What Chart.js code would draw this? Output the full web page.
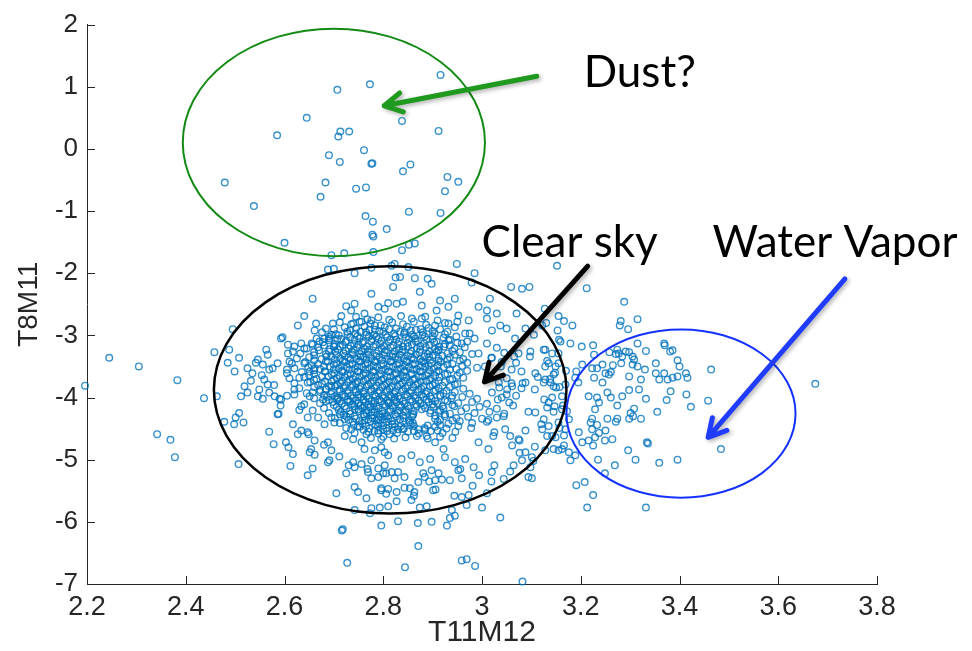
<!DOCTYPE html>
<html>
<head>
<meta charset="utf-8">
<script src="https://cdn.jsdelivr.net/npm/chart.js@4.4.0/dist/chart.umd.min.js"></script>
<style>
  body { margin: 0; background: #fff; }
  #plot { display: block; }
</style>
</head>
<body>
<canvas id="plot" width="972" height="651"></canvas>
<script>
// axis ticks
const xTicks = [2.2, 2.4, 2.6, 2.8, 3.0, 3.2, 3.4, 3.6, 3.8];
const xTickLabels = ['2.2', '2.4', '2.6', '2.8', '3', '3.2', '3.4', '3.6', '3.8'];
const yTicks = [-7, -6, -5, -4, -3, -2, -1, 0, 1, 2];
const yTickLabels = ['-7', '-6', '-5', '-4', '-3', '-2', '-1', '0', '1', '2'];

// [T11M12, T8M11]
const dustPts = [
  [2.916,1.19],[2.773,1.04],[2.707,0.95],[2.645,0.50],[2.838,0.45],[2.585,0.22],[2.713,0.28],[2.709,0.20],
  [2.731,0.28],[2.912,0.29],[2.761,-0.02],[2.690,-0.10],[2.712,-0.21],[2.776,-0.24],[2.778,-0.23],[2.855,-0.25],
  [2.840,-0.36],[2.930,-0.45],[2.952,-0.53],[2.479,-0.54],[2.683,-0.54],[2.745,-0.64],[2.765,-0.62],[2.925,-0.68],
  [2.673,-0.77],[2.538,-0.92],[2.852,-1.01],[2.916,-1.03],[2.764,-1.08],[2.779,-1.17],[2.807,-1.29],[2.778,-1.38],
  [2.780,-1.41],[2.600,-1.51],[2.852,-1.54],[2.864,-1.52],[2.838,-1.63],[2.695,-1.71],[2.721,-1.68],[2.780,-1.66]
];

const clearSkyPts = [
  [2.688,-1.94],[2.700,-1.93],[2.742,-2.00],[2.776,-1.91],[2.817,-1.88],[2.823,-1.85],[2.825,-2.07],[2.820,-2.22],
  [2.776,-2.33],[2.657,-2.41],[2.725,-2.53],[2.742,-2.49],[2.735,-2.60],[2.790,-2.54],[2.810,-2.48],[2.803,-2.57],
  [2.762,-2.65],[2.715,-2.69],[2.640,-2.69],[2.627,-2.84],[2.664,-2.81],[2.661,-2.92],[2.684,-2.89],[2.698,-2.81],
  [2.695,-2.99],[2.739,-2.81],[2.756,-2.78],[2.776,-2.76],[2.783,-2.84],[2.495,-2.90],[2.593,-3.05],[2.596,-3.03],
  [2.607,-3.15],[2.620,-3.18],[2.634,-3.13],[2.640,-3.21],[2.657,-3.15],[2.671,-3.10],[2.681,-3.05],[2.691,-3.05],
  [2.701,-3.18],[2.458,-3.27],[2.488,-3.23],[2.485,-3.44],[2.508,-3.36],[2.499,-3.58],[2.525,-3.53],[2.535,-3.61],
  [2.532,-3.73],[2.546,-3.39],[2.556,-3.47],[2.563,-3.23],[2.566,-3.31],[2.569,-3.55],[2.576,-3.53],[2.586,-3.45],
  [2.607,-3.29],[2.610,-3.42],[2.617,-3.26],[2.605,-3.55],[2.630,-3.68],[2.640,-3.45],[2.651,-3.58],[2.661,-3.53],
  [2.437,-4.01],[2.463,-3.98],[2.512,-3.98],[2.525,-3.92],[2.519,-3.82],[2.549,-3.87],[2.559,-3.71],[2.566,-3.79],
  [2.556,-4.02],[2.580,-3.98],[2.590,-4.02],[2.569,-3.92],[2.620,-3.87],[2.647,-3.76],[2.657,-3.92],[2.678,-4.03],
  [2.684,-3.87],[2.708,-4.03],[2.695,-3.82],
  [2.546,-3.98],[2.593,-4.03],[2.620,-3.95],[2.651,-3.98],[2.640,-4.11],[2.634,-4.14],[2.657,-4.21],[2.647,-4.32],
  [2.668,-4.32],[2.684,-4.06],[2.708,-4.00],[2.712,-4.27],[2.695,-4.32],[2.681,-4.43],[2.701,-4.40],[2.722,-4.35],
  [2.586,-4.27],[2.588,-4.26],[2.508,-4.25],[2.501,-4.32],[2.498,-4.43],[2.517,-4.40],[2.478,-4.39],[2.569,-4.55],
  [2.578,-4.75],[2.603,-4.72],[2.608,-4.80],[2.617,-4.91],[2.507,-5.07],[2.612,-5.10],[2.627,-4.59],[2.634,-4.53],
  [2.647,-4.56],[2.661,-4.69],[2.654,-4.83],[2.651,-4.88],[2.647,-5.25],[2.657,-5.14],[2.688,-4.72],[2.695,-4.85],
  [2.688,-5.04],[2.691,-5.01],[2.705,-5.54],[2.725,-5.22],[2.739,-5.04],[2.742,-5.12],[2.756,-5.07],[2.742,-5.44],
  [2.749,-5.52],[2.766,-5.62],[2.742,-5.81],[2.773,-5.86],[2.776,-5.78],[2.793,-5.77],[2.810,-5.75],[2.796,-5.49],
  [2.790,-5.28],[2.800,-5.22],[2.776,-5.30],[2.790,-5.14],[2.769,-5.20],[2.776,-5.01],[2.803,-5.09],[2.810,-4.93],
  [2.803,-4.88],[2.817,-5.20],[2.827,-5.67],[2.722,-4.62],[2.735,-4.51],[2.749,-4.46],[2.762,-4.37],[2.776,-4.24],
  [2.790,-4.35],[2.803,-4.30],[2.742,-4.19],[2.762,-4.14],[2.729,-4.06],[2.749,-4.00],[2.783,-4.06],[2.810,-4.08],
  [2.823,-4.00],[2.739,-4.67],[2.756,-4.72],[2.762,-4.83],[2.783,-4.85],[2.796,-4.67],[2.813,-4.59],[2.790,-4.53],
  [2.766,-4.59],
  [2.935,-5.94],[2.945,-5.90],[2.939,-5.81],[2.969,-5.73],[2.959,-5.60],[2.973,-5.57],[3.000,-5.77],[3.010,-5.54],
  [3.037,-5.93],[2.874,-5.77],[2.888,-5.75],[2.857,-5.65],[2.854,-5.46],[2.863,-5.52],[2.901,-5.49],[2.905,-5.33],
  [2.912,-5.22],[2.898,-5.17],[2.884,-5.28],[2.871,-5.36],[2.823,-5.30],[2.830,-5.20],[2.796,-5.46],[2.810,-5.47],
  [2.827,-5.52],[2.935,-5.33],[2.952,-5.17],[2.959,-5.30],[2.983,-5.12],[3.020,-5.20],[3.044,-5.31],[3.064,-5.09],
  [3.101,-5.30],[3.098,-5.12],[3.081,-5.01],[3.101,-4.96],[3.088,-4.88],[3.162,-4.83],[3.142,-4.62],[3.135,-4.08],
  [3.108,-4.24],[3.074,-4.67],[3.061,-4.77],[3.047,-4.51],[3.023,-4.62],[3.013,-4.83],[2.993,-4.72],[2.966,-4.99],
  [2.945,-5.04],[2.925,-4.96],[2.922,-4.83],[2.905,-4.72],[2.888,-4.62],[2.871,-4.51],[2.854,-4.40],[2.830,-4.51],
  [2.796,-4.80],[2.837,-4.99],[2.857,-4.93],[2.874,-5.04],[2.895,-4.99],
  [2.851,-1.90],[2.834,-2.06],[2.864,-2.08],[2.890,-2.09],[2.874,-2.30],[2.898,-2.17],[2.949,-1.85],[2.985,-2.00],
  [2.979,-2.15],[3.016,-2.41],[3.059,-2.22],[3.081,-2.25],[3.096,-2.22],[3.152,-1.88],[2.827,-2.49],[2.840,-2.46],
  [2.878,-2.52],[2.908,-2.60],[2.932,-2.54],[2.945,-2.41],[2.915,-2.44],[2.952,-2.68],[2.973,-2.76],[2.993,-2.54],
  [3.010,-2.60],[3.030,-2.65],[3.037,-2.84],[3.050,-2.89],[3.067,-3.05],[3.088,-2.89],[3.105,-2.99],[3.122,-2.84],
  [3.159,-3.10],[3.179,-3.13],[3.128,-3.23],[3.155,-3.29],[3.098,-3.26],[3.074,-3.29],[3.108,-3.61],[3.128,-3.50],
  [3.149,-3.50],[3.125,-3.76],[3.145,-3.82],[3.169,-3.79],[3.162,-3.98],[3.088,-3.76],[3.061,-3.82],[3.034,-3.76],
  [2.993,-3.29],[3.006,-3.50],[2.966,-2.97],[2.959,-3.13],[2.932,-3.08],[2.912,-3.23],[2.884,-3.45],[2.932,-2.81],
  [2.905,-2.84],[2.878,-2.73],[3.070,-2.65],[3.010,-2.73],[3.020,-2.92],[3.127,-2.57],
  [3.019,-3.36],[3.038,-3.50],[3.069,-3.44],[3.097,-3.34],[3.132,-3.41],[3.148,-3.60],[3.113,-3.67],[3.082,-3.77],
  [3.051,-3.87],[3.032,-4.03],[3.063,-4.13],[3.094,-4.23],[3.126,-4.03],[3.145,-4.23],[3.120,-4.43],[3.088,-4.53],
  [3.057,-4.62],[3.025,-4.56],[3.013,-4.36],[3.044,-4.30],[3.076,-4.69],[3.107,-4.79],[3.132,-4.62],[3.157,-4.49],
  [3.164,-4.13],[3.157,-3.83],[3.170,-3.57],[3.138,-3.70],[3.107,-3.87],[3.069,-3.97],
  [2.542,-3.44],[2.554,-3.64],[2.579,-3.80],[2.605,-3.97],[2.592,-4.13],[2.630,-4.20],[2.617,-4.43],[2.649,-4.59],
  [2.680,-4.76],[2.661,-4.92],[2.711,-4.95],[2.730,-5.09],[2.768,-5.15],[2.806,-5.22],[2.843,-5.28],[2.881,-5.22],
  [2.919,-5.32],[2.956,-5.15],[2.994,-5.25],[3.025,-5.09],[3.057,-5.19],[3.094,-5.28],[3.104,-5.02],[3.076,-4.89],
  [2.906,-5.48],[2.944,-5.58],[2.981,-5.42],[3.019,-5.35],[2.843,-5.45],[2.806,-5.55],[2.862,-5.58],[2.893,-5.35]
];

// dense middle of the clear-sky cloud, estimated row by row
const corePts = [
  [2.745,-2.70],[2.768,-2.74],[2.790,-2.71],[2.812,-2.75],[2.836,-2.69],[2.858,-2.73],[2.885,-2.70],[2.910,-2.76],
  [2.712,-2.79],[2.735,-2.82],[2.752,-2.78],[2.774,-2.81],[2.795,-2.84],[2.818,-2.79],[2.840,-2.82],[2.862,-2.78],[2.887,-2.83],[2.925,-2.80],[2.950,-2.78],
  [2.700,-2.90],[2.722,-2.87],[2.745,-2.89],[2.762,-2.86],[2.783,-2.91],[2.803,-2.87],[2.826,-2.89],[2.848,-2.86],[2.866,-2.91],[2.892,-2.88],[2.915,-2.90],[2.945,-2.87],
  [2.676,-2.95],[2.704,-2.98],[2.727,-2.94],[2.743,-2.97],[2.765,-2.95],[2.781,-2.99],[2.800,-2.94],[2.822,-2.97],[2.843,-2.95],[2.858,-2.99],[2.880,-2.95],[2.904,-2.97],[2.930,-2.94],[2.975,-2.97],
  [2.665,-3.05],[2.690,-3.02],[2.715,-3.06],[2.733,-3.03],[2.752,-3.05],[2.771,-3.02],[2.790,-3.06],[2.808,-3.03],[2.826,-3.07],[2.846,-3.03],[2.865,-3.05],[2.884,-3.02],[2.900,-3.06],[2.922,-3.04],[2.948,-3.02],[2.985,-3.05],
  [2.655,-3.13],[2.678,-3.11],[2.702,-3.14],[2.724,-3.11],[2.741,-3.14],[2.758,-3.12],[2.776,-3.10],[2.794,-3.13],[2.811,-3.11],[2.830,-3.14],[2.849,-3.12],[2.866,-3.10],[2.883,-3.13],[2.903,-3.11],[2.925,-3.14],[2.950,-3.12],[2.970,-3.10],[3.010,-3.13],
  [2.645,-3.21],[2.668,-3.19],[2.692,-3.22],[2.712,-3.18],[2.730,-3.21],[2.747,-3.19],[2.763,-3.22],[2.780,-3.18],[2.797,-3.21],[2.815,-3.19],[2.832,-3.22],[2.850,-3.18],[2.868,-3.21],[2.886,-3.19],[2.905,-3.22],[2.923,-3.18],[2.944,-3.21],[2.965,-3.19],[3.030,-3.20],
  [2.632,-3.29],[2.660,-3.27],[2.684,-3.30],[2.703,-3.26],[2.720,-3.29],[2.737,-3.27],[2.753,-3.30],[2.769,-3.26],[2.786,-3.29],[2.803,-3.27],[2.820,-3.30],[2.838,-3.26],[2.855,-3.29],[2.873,-3.27],[2.890,-3.30],[2.908,-3.26],[2.930,-3.29],[2.955,-3.27],[2.980,-3.30],[3.045,-3.28],
  [2.625,-3.37],[2.650,-3.35],[2.675,-3.38],[2.695,-3.34],[2.713,-3.37],[2.729,-3.35],[2.745,-3.38],[2.760,-3.34],[2.776,-3.37],[2.792,-3.35],[2.808,-3.38],[2.825,-3.34],[2.842,-3.37],[2.858,-3.35],[2.875,-3.38],[2.893,-3.34],[2.912,-3.37],[2.935,-3.35],[2.962,-3.38],[3.020,-3.36],[3.065,-3.34],
  [2.615,-3.45],[2.642,-3.43],[2.668,-3.46],[2.688,-3.42],[2.706,-3.45],[2.722,-3.43],[2.738,-3.46],[2.753,-3.42],[2.768,-3.45],[2.784,-3.43],[2.800,-3.46],[2.816,-3.42],[2.832,-3.45],[2.848,-3.43],[2.864,-3.46],[2.881,-3.42],[2.898,-3.45],[2.916,-3.43],[2.940,-3.46],[2.970,-3.44],[3.040,-3.43],
  [2.620,-3.53],[2.648,-3.51],[2.672,-3.54],[2.692,-3.50],[2.710,-3.53],[2.726,-3.51],[2.742,-3.54],[2.757,-3.50],[2.772,-3.53],[2.788,-3.51],[2.804,-3.54],[2.820,-3.50],[2.836,-3.53],[2.852,-3.51],[2.868,-3.54],[2.885,-3.50],[2.903,-3.53],[2.922,-3.51],[2.948,-3.54],[2.990,-3.52],[3.060,-3.55],
  [2.605,-3.61],[2.635,-3.59],[2.660,-3.62],[2.682,-3.58],[2.701,-3.61],[2.718,-3.59],[2.734,-3.62],[2.749,-3.58],[2.764,-3.61],[2.779,-3.59],[2.795,-3.62],[2.810,-3.58],[2.826,-3.61],[2.842,-3.59],[2.858,-3.62],[2.874,-3.58],[2.891,-3.61],[2.908,-3.59],[2.930,-3.62],[2.955,-3.60],[3.080,-3.58],
  [2.610,-3.69],[2.640,-3.67],[2.665,-3.70],[2.688,-3.66],[2.706,-3.69],[2.722,-3.67],[2.738,-3.70],[2.753,-3.66],[2.768,-3.69],[2.784,-3.67],[2.800,-3.70],[2.815,-3.66],[2.831,-3.69],[2.847,-3.67],[2.863,-3.70],[2.879,-3.66],[2.896,-3.69],[2.914,-3.67],[2.940,-3.70],[2.962,-3.68],[3.050,-3.69],
  [2.620,-3.77],[2.652,-3.75],[2.676,-3.78],[2.696,-3.74],[2.713,-3.77],[2.729,-3.75],[2.745,-3.78],[2.760,-3.74],[2.775,-3.77],[2.791,-3.75],[2.806,-3.78],[2.822,-3.74],[2.838,-3.77],[2.854,-3.75],[2.870,-3.78],[2.887,-3.74],[2.905,-3.77],[2.925,-3.75],[2.950,-3.78],[3.060,-3.77],
  [2.630,-3.85],[2.660,-3.83],[2.684,-3.86],[2.703,-3.82],[2.720,-3.85],[2.736,-3.83],[2.752,-3.86],[2.767,-3.82],[2.782,-3.85],[2.798,-3.83],[2.813,-3.86],[2.829,-3.82],[2.845,-3.85],[2.861,-3.83],[2.877,-3.86],[2.894,-3.82],[2.912,-3.85],[2.935,-3.83],[2.962,-3.86],[3.035,-3.84],[3.080,-3.85],
  [2.645,-3.93],[2.672,-3.91],[2.694,-3.94],[2.712,-3.90],[2.728,-3.93],[2.744,-3.91],[2.760,-3.94],[2.775,-3.90],[2.790,-3.93],[2.806,-3.91],[2.822,-3.94],[2.838,-3.90],[2.854,-3.93],[2.870,-3.91],[2.886,-3.94],[2.903,-3.90],[2.922,-3.93],[2.945,-3.91],[2.975,-3.94],[3.020,-3.92],[3.050,-3.95],
  [2.660,-4.01],[2.686,-3.99],[2.706,-4.02],[2.723,-3.98],[2.739,-4.01],[2.755,-3.99],[2.770,-4.02],[2.785,-3.98],[2.801,-4.01],[2.817,-3.99],[2.833,-4.02],[2.849,-3.98],[2.865,-4.01],[2.881,-3.99],[2.898,-4.02],[2.916,-3.98],[2.938,-4.01],[2.960,-3.99],[2.990,-4.02],[3.040,-4.00],
  [2.672,-4.09],[2.698,-4.07],[2.716,-4.10],[2.733,-4.06],[2.749,-4.09],[2.764,-4.07],[2.780,-4.10],[2.796,-4.06],[2.811,-4.09],[2.827,-4.07],[2.843,-4.10],[2.859,-4.06],[2.875,-4.09],[2.892,-4.07],[2.910,-4.10],[2.930,-4.06],[2.952,-4.09],[2.980,-4.07],[3.010,-4.10],[3.055,-4.08],
  [2.680,-4.17],[2.706,-4.15],[2.725,-4.18],[2.742,-4.14],[2.758,-4.17],[2.774,-4.15],[2.790,-4.18],[2.805,-4.14],[2.820,-4.17],[2.836,-4.15],[2.852,-4.18],[2.868,-4.14],[2.885,-4.17],[2.902,-4.15],[2.922,-4.18],[2.944,-4.14],[2.968,-4.17],[2.995,-4.15],[3.030,-4.18],
  [2.690,-4.25],[2.714,-4.23],[2.733,-4.26],[2.750,-4.22],[2.766,-4.25],[2.782,-4.23],[2.798,-4.26],[2.813,-4.22],[2.829,-4.25],[2.845,-4.23],[2.861,-4.26],[2.895,-4.25],[2.913,-4.23],[2.935,-4.26],[2.958,-4.22],[2.985,-4.25],[3.015,-4.23],[3.045,-4.26],
  [2.702,-4.33],[2.726,-4.31],[2.745,-4.34],[2.762,-4.30],[2.778,-4.33],[2.794,-4.31],[2.810,-4.34],[2.826,-4.30],[2.842,-4.33],[2.858,-4.31],[2.905,-4.34],[2.925,-4.30],[2.948,-4.33],[2.972,-4.31],[3.000,-4.34],[3.030,-4.32],
  [2.712,-4.41],[2.738,-4.39],[2.758,-4.42],[2.775,-4.38],[2.791,-4.41],[2.807,-4.39],[2.823,-4.42],[2.840,-4.38],[2.860,-4.41],[2.910,-4.39],[2.932,-4.42],[2.955,-4.38],[2.980,-4.41],[3.010,-4.39],
  [2.725,-4.49],[2.752,-4.47],[2.772,-4.50],[2.789,-4.46],[2.806,-4.49],[2.823,-4.47],[2.842,-4.50],[2.862,-4.46],[2.884,-4.49],[2.905,-4.47],[2.928,-4.50],[2.952,-4.46],[2.978,-4.49],
  [2.742,-4.57],[2.770,-4.55],[2.790,-4.58],[2.808,-4.54],[2.828,-4.57],[2.850,-4.55],[2.872,-4.58],[2.896,-4.54],[2.920,-4.57],[2.946,-4.55],
  [2.775,-4.65],[2.800,-4.63],[2.822,-4.66],[2.845,-4.64],[2.868,-4.62],[2.890,-4.66],[2.915,-4.63],[2.940,-4.65]
];

// the solid-looking heart of the cloud, between the rows above
const coreFillPts = [
  [2.733,-2.92],[2.754,-2.94],[2.772,-2.91],[2.792,-2.93],[2.812,-2.90],[2.834,-2.94],[2.856,-2.92],[2.876,-2.90],[2.900,-2.93],
  [2.710,-3.00],[2.728,-2.98],[2.748,-3.01],[2.766,-2.99],[2.786,-3.02],[2.805,-2.99],[2.824,-3.01],[2.842,-2.98],[2.862,-3.02],[2.880,-2.99],[2.900,-3.01],[2.925,-2.98],
  [2.690,-3.08],[2.707,-3.06],[2.725,-3.09],[2.742,-3.07],[2.760,-3.10],[2.778,-3.06],[2.796,-3.09],[2.814,-3.07],[2.832,-3.10],[2.852,-3.06],[2.870,-3.09],[2.888,-3.07],[2.908,-3.10],[2.935,-3.07],
  [2.680,-3.16],[2.700,-3.18],[2.718,-3.15],[2.734,-3.17],[2.750,-3.15],[2.767,-3.18],[2.785,-3.15],[2.802,-3.17],[2.820,-3.16],[2.840,-3.18],[2.858,-3.15],[2.875,-3.17],[2.893,-3.15],[2.913,-3.18],[2.935,-3.16],
  [2.670,-3.24],[2.690,-3.26],[2.708,-3.23],[2.724,-3.25],[2.740,-3.23],[2.756,-3.26],[2.772,-3.23],[2.790,-3.25],[2.806,-3.24],[2.823,-3.26],[2.840,-3.23],[2.857,-3.25],[2.875,-3.23],[2.893,-3.26],[2.912,-3.24],[2.940,-3.25],
  [2.660,-3.32],[2.685,-3.34],[2.705,-3.31],[2.722,-3.33],[2.738,-3.31],[2.754,-3.34],[2.770,-3.31],[2.786,-3.33],[2.802,-3.32],[2.818,-3.34],[2.834,-3.31],[2.850,-3.33],[2.866,-3.31],[2.883,-3.34],[2.900,-3.32],[2.920,-3.33],[2.945,-3.31],
  [2.660,-3.40],[2.684,-3.42],[2.702,-3.39],[2.718,-3.41],[2.734,-3.39],[2.750,-3.42],[2.766,-3.39],[2.782,-3.41],[2.798,-3.40],[2.814,-3.42],[2.830,-3.39],[2.846,-3.41],[2.862,-3.39],[2.878,-3.42],[2.895,-3.40],[2.912,-3.41],[2.930,-3.39],[2.955,-3.41],
  [2.655,-3.48],[2.680,-3.50],[2.700,-3.47],[2.716,-3.49],[2.732,-3.47],[2.748,-3.50],[2.764,-3.47],[2.780,-3.49],[2.796,-3.48],[2.812,-3.50],[2.828,-3.47],[2.844,-3.49],[2.860,-3.47],[2.876,-3.50],[2.892,-3.48],[2.910,-3.49],[2.930,-3.47],[2.960,-3.49],
  [2.660,-3.56],[2.682,-3.58],[2.700,-3.55],[2.716,-3.57],[2.732,-3.55],[2.748,-3.58],[2.764,-3.55],[2.780,-3.57],[2.796,-3.56],[2.812,-3.58],[2.828,-3.55],[2.844,-3.57],[2.860,-3.55],[2.876,-3.58],[2.893,-3.56],[2.912,-3.57],[2.935,-3.55],[2.970,-3.57],
  [2.650,-3.64],[2.676,-3.66],[2.696,-3.63],[2.712,-3.65],[2.728,-3.63],[2.744,-3.66],[2.760,-3.63],[2.776,-3.65],[2.792,-3.64],[2.808,-3.66],[2.824,-3.63],[2.840,-3.65],[2.856,-3.63],[2.872,-3.66],[2.888,-3.64],[2.905,-3.65],[2.925,-3.63],[2.950,-3.65],
  [2.660,-3.72],[2.682,-3.74],[2.700,-3.71],[2.716,-3.73],[2.732,-3.71],[2.748,-3.74],[2.764,-3.71],[2.780,-3.73],[2.796,-3.72],[2.812,-3.74],[2.828,-3.71],[2.844,-3.73],[2.860,-3.71],[2.876,-3.74],[2.893,-3.72],[2.912,-3.73],[2.935,-3.71],
  [2.668,-3.80],[2.690,-3.82],[2.706,-3.79],[2.722,-3.81],[2.738,-3.79],[2.754,-3.82],[2.770,-3.79],[2.786,-3.81],[2.802,-3.80],[2.818,-3.82],[2.834,-3.79],[2.850,-3.81],[2.866,-3.79],[2.882,-3.82],[2.900,-3.80],[2.920,-3.81],[2.945,-3.79],
  [2.672,-3.88],[2.696,-3.90],[2.712,-3.87],[2.728,-3.89],[2.744,-3.87],[2.760,-3.90],[2.776,-3.87],[2.792,-3.89],[2.808,-3.88],[2.824,-3.90],[2.840,-3.87],[2.856,-3.89],[2.872,-3.87],[2.888,-3.90],[2.906,-3.88],[2.928,-3.89],
  [2.680,-3.96],[2.702,-3.98],[2.718,-3.95],[2.734,-3.97],[2.750,-3.95],[2.766,-3.98],[2.782,-3.95],[2.798,-3.97],[2.814,-3.96],[2.830,-3.98],[2.846,-3.95],[2.862,-3.97],[2.878,-3.95],[2.895,-3.98],[2.915,-3.96],[2.940,-3.97],
  [2.690,-4.04],[2.712,-4.06],[2.728,-4.03],[2.744,-4.05],[2.760,-4.03],[2.776,-4.06],[2.792,-4.03],[2.808,-4.05],[2.824,-4.04],[2.840,-4.06],[2.856,-4.03],[2.872,-4.05],[2.888,-4.03],[2.905,-4.06],[2.925,-4.04],
  [2.700,-4.12],[2.722,-4.14],[2.738,-4.11],[2.754,-4.13],[2.770,-4.11],[2.786,-4.14],[2.802,-4.11],[2.818,-4.13],[2.834,-4.12],[2.850,-4.14],[2.866,-4.11],[2.882,-4.13],[2.900,-4.11],[2.920,-4.14],[2.940,-4.12],
  [2.710,-4.20],[2.732,-4.22],[2.750,-4.19],[2.766,-4.21],[2.782,-4.19],[2.798,-4.22],[2.814,-4.19],[2.830,-4.21],[2.846,-4.20],[2.862,-4.22],[2.878,-4.19],[2.896,-4.21],[2.915,-4.20],
  [2.720,-4.28],[2.742,-4.30],[2.760,-4.27],[2.776,-4.29],[2.792,-4.27],[2.808,-4.30],[2.824,-4.27],[2.840,-4.29],[2.860,-4.28],[2.905,-4.29],[2.925,-4.27],
  [2.730,-4.36],[2.752,-4.38],[2.770,-4.35],[2.786,-4.37],[2.802,-4.35],[2.818,-4.38],[2.834,-4.35],[2.852,-4.37],[2.915,-4.36],[2.940,-4.37],
  [2.740,-4.44],[2.765,-4.46],[2.784,-4.43],[2.800,-4.45],[2.818,-4.43],[2.836,-4.46],[2.856,-4.43],[2.890,-4.45],[2.915,-4.44],
  [2.760,-4.52],[2.782,-4.54],[2.800,-4.51],[2.820,-4.53],[2.840,-4.51],[2.862,-4.54],[2.885,-4.52],[2.910,-4.53]
];

const vaporPts = [
  [3.212,-2.24],[3.288,-2.46],[3.315,-2.74],[3.281,-2.77],[3.279,-2.84],[3.296,-2.90],[3.155,-2.69],[3.166,-2.77],
  [3.183,-2.84],[3.153,-2.92],[3.130,-2.80],[3.156,-3.07],[3.125,-3.23],[3.202,-3.18],[3.225,-3.16],[3.315,-3.13],
  [3.332,-3.25],[3.277,-3.29],[3.284,-3.34],[3.271,-3.30],[3.298,-3.27],[3.308,-3.39],[3.305,-3.47],[3.315,-3.50],
  [3.282,-3.45],[3.265,-3.48],[3.244,-3.47],[3.233,-3.53],[3.223,-3.53],[3.227,-3.68],[3.244,-3.76],[3.250,-3.61],
  [3.257,-3.63],[3.261,-3.59],[3.298,-3.66],[3.322,-3.71],[3.330,-3.55],[3.352,-3.45],[3.369,-3.13],[3.370,-3.16],
  [3.386,-3.24],[3.381,-3.26],[3.396,-3.40],[3.352,-3.61],[3.359,-3.71],[3.376,-3.71],[3.386,-3.68],[3.396,-3.66],
  [3.413,-3.61],[3.416,-3.68],[3.464,-3.55],[3.382,-3.90],[3.374,-4.04],[3.414,-3.95],[3.423,-4.15],[3.458,-4.05],
  [3.332,-4.02],[3.318,-3.87],[3.298,-3.88],[3.284,-3.98],[3.274,-4.13],[3.254,-3.92],[3.261,-4.00],[3.233,-4.00],
  [3.237,-4.08],[3.229,-4.19],[3.216,-3.98],[3.195,-3.76],[3.191,-3.58],[3.355,-4.23],[3.308,-4.18],[3.301,-4.25],
  [3.322,-4.34],[3.298,-4.34],[3.306,-4.30],[3.274,-4.34],[3.271,-4.39],[3.254,-4.34],[3.223,-4.34],[3.220,-4.40],
  [3.233,-4.44],[3.223,-4.51],[3.237,-4.57],[3.229,-4.64],[3.250,-4.53],[3.264,-4.67],[3.249,-4.69],[3.196,-4.56],
  [3.203,-4.72],[3.216,-4.69],[3.225,-4.77],[3.166,-4.77],[3.176,-4.88],[3.179,-5.01],[3.189,-4.93],[3.334,-4.72],
  [3.336,-4.74],[3.296,-4.85],[3.311,-5.00],[3.235,-5.00],[3.269,-5.09],[3.249,-5.22],[3.359,-5.05],[3.396,-5.00],
  [3.484,-4.83],[3.191,-5.41],[3.208,-5.36],[3.225,-5.57],[3.213,-5.77],[3.332,-5.77],[3.125,-4.35],[3.135,-4.46],
  [3.122,-4.51],[3.155,-4.40],[3.162,-4.19],[3.147,-4.14],[3.132,-4.16],[3.142,-4.00],[3.150,-3.84],[3.139,-3.76],
  [3.128,-3.71],[3.145,-3.63],[3.155,-3.45],[3.135,-3.45],[3.142,-3.29],[3.172,-4.22],[3.176,-4.35],[3.169,-4.51],
  [3.166,-4.61],[3.149,-4.64],[3.145,-4.83],[3.128,-4.85],[3.155,-4.85],[3.189,-3.68],[3.203,-3.47],[3.227,-3.31],
  [3.258,-3.27],[3.274,-3.23],[3.291,-3.26],[3.305,-3.34],[3.369,-3.61],[3.400,-3.50],[3.675,-3.78]
];

const strayPts = [
  [2.196,-3.81],[2.245,-3.36],[2.305,-3.50],[2.383,-3.72],[2.342,-4.59],[2.369,-4.68],[2.378,-4.96],
  [2.716,-6.14],[2.718,-6.12],[2.727,-6.66],[2.844,-6.73],[2.871,-6.39],[2.959,-6.62],[2.969,-6.60],
  [2.986,-6.71],[3.082,-6.96],[2.796,-6.06],[2.830,-5.99],[2.870,-6.02],[2.898,-6.00],[2.929,-6.06]
];

// annotations, in data units
const ellipses = [
  { cx: 2.700, cy: 0.105, rx: 0.306, ry: 1.83, color: '#138a13', width: 2 },
  { cx: 2.814, cy: -3.876, rx: 0.357, ry: 1.99, color: '#000000', width: 2.5 },
  { cx: 3.403, cy: -4.258, rx: 0.232, ry: 1.354, color: '#1432ff', width: 2 }
];
const arrows = [
  { from: [3.111, 1.17], to: [2.802, 0.694], color: '#1f9a1f' },
  { from: [3.214, -1.885], to: [3.005, -3.748], color: '#000000' },
  { from: [3.735, -2.092], to: [3.458, -4.64], color: '#1f3cff' }
];
const labels = [
  { text: 'Dust?', x: 3.206, y: 0.997 },
  { text: 'Clear sky', x: 2.999, y: -1.742 },
  { text: 'Water Vapor', x: 3.467, y: -1.742 }
];

const axisColor = '#262626';
const allPts = dustPts.concat(clearSkyPts, corePts, coreFillPts, vaporPts, strayPts);

// inward tick marks like the matlab axes
const insideTicks = {
  id: 'insideTicks',
  afterDatasetsDraw(chart) {
    const { ctx, chartArea: a, scales: { x, y } } = chart;
    ctx.save();
    ctx.strokeStyle = axisColor;
    ctx.lineWidth = 1;
    ctx.beginPath();
    xTicks.forEach(v => {
      const px = Math.round(x.getPixelForValue(v)) + 0.5;
      ctx.moveTo(px, a.bottom);
      ctx.lineTo(px, a.bottom - 8);
    });
    yTicks.forEach(v => {
      const py = Math.round(y.getPixelForValue(v)) + 0.5;
      ctx.moveTo(a.left, py);
      ctx.lineTo(a.left + 8, py);
    });
    ctx.stroke();
    ctx.restore();
  }
};

function drawArrow(ctx, x0, y0, x1, y1) {
  const ang = Math.atan2(y1 - y0, x1 - x0);
  const len = 20, spread = 0.5;
  ctx.beginPath();
  ctx.moveTo(x0, y0);
  ctx.lineTo(x1, y1);
  ctx.moveTo(x1 - len * Math.cos(ang - spread), y1 - len * Math.sin(ang - spread));
  ctx.lineTo(x1, y1);
  ctx.lineTo(x1 - len * Math.cos(ang + spread), y1 - len * Math.sin(ang + spread));
  ctx.stroke();
}

const notes = {
  id: 'notes',
  afterDraw(chart) {
    const { ctx, scales: { x, y } } = chart;
    ctx.save();
    ellipses.forEach(e => {
      const cx = x.getPixelForValue(e.cx), cy = y.getPixelForValue(e.cy);
      const rx = x.getPixelForValue(e.cx + e.rx) - cx;
      const ry = cy - y.getPixelForValue(e.cy + e.ry);
      ctx.beginPath();
      ctx.ellipse(cx, cy, rx, ry, 0, 0, Math.PI * 2);
      ctx.strokeStyle = e.color;
      ctx.lineWidth = e.width;
      ctx.stroke();
    });
    ctx.lineWidth = 5;
    ctx.lineCap = 'round';
    ctx.lineJoin = 'round';
    ctx.shadowColor = 'rgba(0,0,0,0.3)';
    ctx.shadowBlur = 4;
    ctx.shadowOffsetX = 2;
    ctx.shadowOffsetY = 2;
    arrows.forEach(a => {
      ctx.strokeStyle = a.color;
      drawArrow(ctx,
        x.getPixelForValue(a.from[0]), y.getPixelForValue(a.from[1]),
        x.getPixelForValue(a.to[0]), y.getPixelForValue(a.to[1]));
    });
    ctx.shadowColor = 'rgba(0,0,0,0)';
    ctx.fillStyle = '#000';
    ctx.font = '44px Lato';
    ctx.textBaseline = 'alphabetic';
    labels.forEach(l => {
      ctx.fillText(l.text, x.getPixelForValue(l.x), y.getPixelForValue(l.y));
    });
    ctx.restore();
  }
};

new Chart(document.getElementById('plot'), {
  type: 'scatter',
  data: {
    datasets: [{
      data: allPts.map(p => ({ x: p[0], y: p[1] })),
      pointStyle: 'circle',
      pointRadius: 3.3,
      pointBorderWidth: 1.4,
      pointBorderColor: 'rgba(0,114,189,0.78)',
      pointBackgroundColor: 'rgba(0,0,0,0)',
      showLine: false,
      clip: false
    }]
  },
  options: {
    responsive: false,
    animation: false,
    events: [],
    layout: { padding: { top: 19, right: 95, left: 0, bottom: 0 } },
    plugins: { legend: { display: false }, tooltip: { enabled: false } },
    scales: {
      x: {
        type: 'linear',
        min: 2.2,
        max: 3.8,
        afterBuildTicks: s => { s.ticks = xTicks.map(v => ({ value: v })); },
        afterFit: s => { s.height = 67; },
        ticks: {
          color: axisColor,
          padding: 7,
          maxRotation: 0,
          autoSkip: false,
          font: { family: 'Liberation Sans', size: 27 },
          callback: (v, i) => xTickLabels[i]
        },
        grid: { display: true, drawOnChartArea: false, drawTicks: false },
        border: { display: true, color: axisColor, width: 1 },
        title: {
          display: true,
          text: 'T11M12',
          color: axisColor,
          font: { family: 'Liberation Sans', size: 30, lineHeight: 1.2 },
          padding: { top: 0, bottom: 0 }
        }
      },
      y: {
        type: 'linear',
        min: -7,
        max: 2,
        afterBuildTicks: s => { s.ticks = yTicks.map(v => ({ value: v })); },
        afterFit: s => { s.width = 87; },
        ticks: {
          color: axisColor,
          padding: 9,
          autoSkip: false,
          font: { family: 'Liberation Sans', size: 26 },
          callback: (v, i) => yTickLabels[i]
        },
        grid: { display: true, drawOnChartArea: false, drawTicks: false },
        border: { display: true, color: axisColor, width: 1 },
        title: {
          display: true,
          text: 'T8M11',
          color: axisColor,
          font: { family: 'Liberation Sans', size: 28, lineHeight: 1.2 },
          padding: { top: 12, bottom: 0 }
        }
      }
    }
  },
  plugins: [insideTicks, notes]
});
</script>
</body>
</html>
